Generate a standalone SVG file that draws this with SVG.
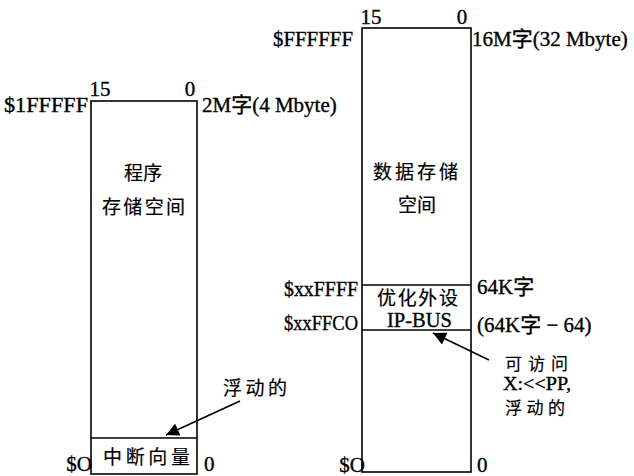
<svg xmlns="http://www.w3.org/2000/svg" width="634" height="476" viewBox="0 0 634 476">
<style>
text{font-family:"Liberation Serif","Noto Sans CJK SC",serif;font-size:21px;fill:#000;stroke:#000;stroke-width:0.35}
.cj{font-family:"Noto Sans CJK SC","Liberation Serif",sans-serif;font-size:19px;stroke-width:0.2}
.sm{font-size:17px}
.sl{font-size:18px}
.box{fill:#fff;stroke:#000;stroke-width:1.6}
.ln{stroke:#000;stroke-width:1.4;fill:none}
.ar{stroke:#000;stroke-width:1.5;fill:none;marker-end:url(#ah)}
</style>
<defs>
<marker id="ah" viewBox="0 0 10 10" refX="10" refY="5" markerWidth="15" markerHeight="13" markerUnits="userSpaceOnUse" orient="auto">
<path d="M0,0 L10,5 L0,10 z" fill="#000"/>
</marker>
</defs>
<rect width="634" height="476" fill="#fff" stroke="none"/>
<g id="program-memory">
<rect class="box" x="91" y="101" width="106" height="373"/>
<line class="ln" x1="91" y1="438" x2="197" y2="438"/>
<text x="100" y="96" text-anchor="middle">15</text>
<text x="190" y="96" text-anchor="middle">0</text>
<text x="88" y="112" text-anchor="end" textLength="84" lengthAdjust="spacingAndGlyphs">$1FFFFF</text>
<text x="202" y="112">2M字(4 Mbyte)</text>
<text class="cj" x="143" y="180" text-anchor="middle">程序</text>
<text class="cj" x="102" y="214" textLength="83" lengthAdjust="spacing">存储空间</text>
<text class="cj" x="103" y="464" textLength="87" lengthAdjust="spacing">中断向量</text>
<text x="92" y="471" text-anchor="end">$O</text>
<text x="204" y="471">0</text>
</g>
<g id="data-memory">
<rect class="box" x="362" y="28" width="109" height="444"/>
<line class="ln" x1="362" y1="285" x2="471" y2="285"/>
<line class="ln" x1="362" y1="330" x2="471" y2="330"/>
<text x="371" y="24" text-anchor="middle">15</text>
<text x="462" y="24" text-anchor="middle">0</text>
<text x="353" y="46" text-anchor="end" textLength="80" lengthAdjust="spacingAndGlyphs">$FFFFFF</text>
<text x="472" y="46">16M字(32 Mbyte)</text>
<text class="cj" x="373" y="179" textLength="85" lengthAdjust="spacing">数据存储</text>
<text class="cj" x="417" y="212" text-anchor="middle">空间</text>
<text x="358" y="296" text-anchor="end" textLength="74" lengthAdjust="spacingAndGlyphs">$xxFFFF</text>
<text x="477" y="294">64K字</text>
<text class="cj" x="377" y="305" textLength="81" lengthAdjust="spacing">优化外设</text>
<text x="387" y="327" textLength="65" lengthAdjust="spacingAndGlyphs">IP-BUS</text>
<text x="358" y="330" text-anchor="end" textLength="74" lengthAdjust="spacingAndGlyphs">$xxFFCO</text>
<text x="477" y="332">(64K字 − 64)</text>
<text x="365" y="472" text-anchor="end">$O</text>
<text x="477" y="472">0</text>
</g>
<g id="float-label-left">
<text class="cj" x="223" y="395" textLength="64" lengthAdjust="spacing">浮动的</text>
</g>
<g id="ip-bus-label">
<text class="cj sm" x="505" y="370" textLength="63" lengthAdjust="spacing">可访问</text>
<text class="sl" x="503" y="390" textLength="68" lengthAdjust="spacingAndGlyphs">X:&lt;&lt;PP,</text>
<text class="cj sm" x="505" y="414" textLength="60" lengthAdjust="spacing">浮动的</text>
</g>
<g id="connectors">
<line class="ar" x1="240" y1="401" x2="166" y2="435"/>
<line class="ar" x1="489" y1="360" x2="433" y2="333"/>
</g>
</svg>
